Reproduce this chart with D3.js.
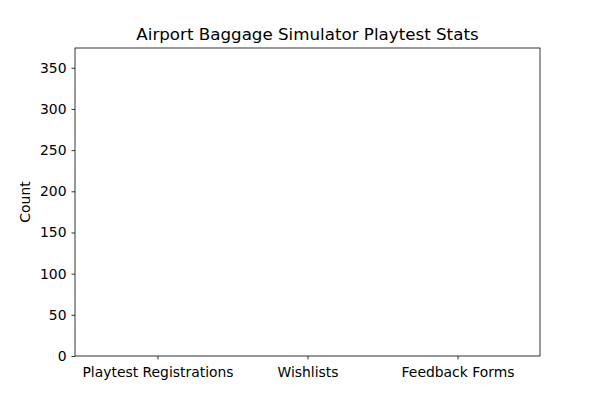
<!DOCTYPE html>
<html>
<head>
<meta charset="utf-8">
<script src="https://cdn.jsdelivr.net/npm/d3@7"></script>
<style>
  body { margin: 0; background: #fff; }
  svg { display: block; font-family: "DejaVu Sans", sans-serif; }
</style>
</head>
<body>
<svg id="chart" width="600" height="400"></svg>
<script>
// data as it appears in the picture (bars have not grown yet)
const categories = ["Playtest Registrations", "Wishlists", "Feedback Forms"];
const counts = [0, 0, 0];
const yTicks = [0, 50, 100, 150, 200, 250, 300, 350];
const yMax = 374;

const svg = d3.select("#chart");
const margin = { left: 75, right: 60, top: 48, bottom: 44 };
const width = 600, height = 400;

const x = d3.scaleLinear()
  .domain([-0.55, categories.length - 0.45])
  .range([margin.left, width - margin.right]);

const y = d3.scaleLinear()
  .domain([0, yMax])
  .range([height - margin.bottom, margin.top]);

const barW = (x(0.8) - x(0));

svg.append("g")
  .selectAll("rect")
  .data(counts)
  .enter()
  .append("rect")
  .attr("x", (d, i) => x(i) - barW / 2)
  .attr("width", barW)
  .attr("y", d => y(d))
  .attr("height", d => y(0) - y(d))
  .attr("fill", "#1f77b4");

// axes
const xAxis = d3.axisBottom(x)
  .tickValues(categories.map((c, i) => i))
  .tickFormat(i => categories[i])
  .tickSize(3.5)
  .tickPadding(8);

const yAxis = d3.axisLeft(y)
  .tickValues(yTicks)
  .tickSize(3.5)
  .tickPadding(5);

const gx = svg.append("g")
  .attr("transform", `translate(0,${height - margin.bottom})`)
  .call(xAxis);
const gy = svg.append("g")
  .attr("transform", `translate(${margin.left},0)`)
  .call(yAxis);

[gx, gy].forEach(g => {
  g.select(".domain").remove();
  g.selectAll("text").attr("font-size", 13.9).attr("fill", "#000")
    .attr("font-family", "DejaVu Sans");
  g.selectAll("line").attr("stroke", "#000").attr("stroke-width", 0.8);
});

// frame
svg.append("rect")
  .attr("x", margin.left)
  .attr("y", margin.top)
  .attr("width", width - margin.left - margin.right)
  .attr("height", height - margin.top - margin.bottom)
  .attr("fill", "none")
  .attr("stroke", "#000")
  .attr("stroke-width", 0.8);

svg.append("text")
  .attr("x", (margin.left + width - margin.right) / 2)
  .attr("y", 40)
  .attr("text-anchor", "middle")
  .attr("font-size", 16.7)
  .text("Airport Baggage Simulator Playtest Stats");

svg.append("text")
  .attr("transform", `translate(30,${(margin.top + height - margin.bottom) / 2}) rotate(-90)`)
  .attr("text-anchor", "middle")
  .attr("font-size", 13.9)
  .text("Count");
</script>
</body>
</html>
